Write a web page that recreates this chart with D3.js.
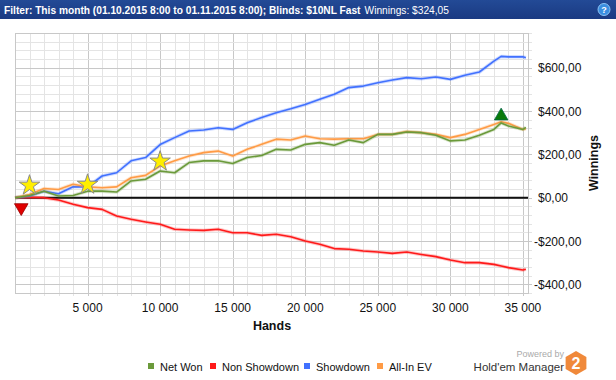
<!DOCTYPE html>
<html><head><meta charset="utf-8">
<script src="https://cdn.jsdelivr.net/npm/d3@7"></script>
<style>
html,body{margin:0;padding:0;background:#fff;}
svg{display:block;font-family:"Liberation Sans",Arial,sans-serif;}
</style></head>
<body>
<svg id="c" width="616" height="380"></svg>
<script>
const hands = [0,1000,2000,3000,4000,5000,6000,7000,8000,9000,10000,11000,12000,13000,14000,15000,16000,17000,18000,19000,20000,21000,22000,23000,24000,25000,26000,27000,28000,29000,30000,31000,32000,33000,33500,34000,35000,35200];
const netWon      = [0,10,30,8,10,30,30,26,77,85,123,115,162,170,170,158,185,195,223,220,246,254,242,266,254,292,292,303,300,288,262,266,288,315,345,331,315,324.05];
const nonShowdown = [0,2,0,-11,-30,-46,-54,-85,-100,-112,-123,-146,-149,-151,-146,-162,-162,-174,-169,-180,-200,-215,-235,-238,-246,-251,-257,-251,-262,-272,-288,-300,-300,-308,-315,-323,-334,-330];
const showdown    = [0,8,30,18,50,50,100,115,170,185,245,277,308,312,323,315,346,370,392,410,430,454,477,508,515,530,543,554,549,557,546,565,580,630,652,650,650,646];
const allInEV     = [0,15,42,38,62,50,46,50,92,103,146,170,192,208,215,192,223,246,270,266,285,272,270,272,272,292,292,305,300,292,277,292,315,338,350,343,315,318];
const seriesNames = ["Net Won","Non Showdown","Showdown","All-In EV"];
const seriesColors = ["#6b9a3b","#ff1a1a","#4171ff","#ff9b45"];
const xTicks = [5000,10000,15000,20000,25000,30000,35000];
const yTicks = [-400,-200,0,200,400,600];
const stars = [{h:1000,v:61},{h:5000,v:65},{h:10000,v:172}];
const minMark = {h:430,v:-46};
const maxMark = {h:33500,v:377};
const title = "Filter: This month (01.10.2015 8:00 to 01.11.2015 8:00); Blinds: $10NL Fast";
const titleExtra = "Winnings: $324,05";

const svg = d3.select("#c");
const L=15,R=528,T=33,B=293;
const x = d3.scaleLinear().domain([0,35350]).range([L,R]);
const y = d3.scaleLinear().domain([-440,760]).range([B,T]);

// title bar
const grad = svg.append("defs").append("linearGradient").attr("id","tb").attr("x1",0).attr("y1",0).attr("x2",0).attr("y2",1);
grad.append("stop").attr("offset","0").attr("stop-color","#234a96");
grad.append("stop").attr("offset","1").attr("stop-color","#1a3a82");
svg.append("rect").attr("x",0).attr("y",0).attr("width",616).attr("height",19).attr("fill","url(#tb)");
const tt = svg.append("text").attr("x",4).attr("y",13.5).attr("fill","#fff").attr("font-size",10.2);
tt.append("tspan").attr("font-weight","bold").text(title);
tt.append("tspan").attr("dx",4).text(titleExtra);
svg.append("circle").attr("cx",604).attr("cy",9.5).attr("r",6).attr("fill","#3a8ee0").attr("stroke","#8cc4f5").attr("stroke-width",1);
svg.append("text").attr("x",604).attr("y",13).attr("text-anchor","middle").attr("fill","#fff").attr("font-size",9).attr("font-weight","bold").text("?");

// grid
const g = svg.append("g");
const minorX = d3.range(1000,35001,1000);
const minorY = d3.range(-440,761,40);
g.selectAll("line.mx").data(minorX).enter().append("line")
  .attr("x1",d=>Math.round(x(d))+0.5).attr("x2",d=>Math.round(x(d))+0.5).attr("y1",T).attr("y2",B+3)
  .attr("stroke",d=>d%5000===0?"#c8c8c8":"#e4e4e4").attr("stroke-width",1);
g.selectAll("line.my").data(minorY).enter().append("line")
  .attr("y1",d=>Math.round(y(d))+0.5).attr("y2",d=>Math.round(y(d))+0.5).attr("x1",L).attr("x2",R+4)
  .attr("stroke",d=>d%200===0?"#c8c8c8":"#e4e4e4").attr("stroke-width",1);
g.append("rect").attr("x",L+0.5).attr("y",T+0.5).attr("width",R-L).attr("height",B-T)
  .attr("fill","none").attr("stroke","#c8c8c8");

// axes labels
svg.append("g").selectAll("text").data(xTicks).enter().append("text")
  .attr("x",d=>x(d)).attr("y",312).attr("text-anchor","middle").attr("font-size",12).attr("fill","#111")
  .text(d=>d3.format(",")(d).replace(/,/g," "));
svg.append("text").attr("x",272).attr("y",330).attr("text-anchor","middle").attr("font-size",12.5).attr("font-weight","bold").attr("fill","#111").text("Hands");
svg.append("g").selectAll("text").data(yTicks).enter().append("text")
  .attr("x",d=>d<0?534:538).attr("y",d=>y(d)+4.5).attr("font-size",12).attr("fill","#111")
  .text(d=>(d<0?"-":"")+"$"+Math.abs(d)+",00");
svg.append("text").attr("transform","translate(598,163) rotate(-90)").attr("text-anchor","middle")
  .attr("font-size",12.5).attr("font-weight","bold").attr("fill","#111").text("Winnings");

// zero line
svg.append("line").attr("x1",L).attr("x2",R).attr("y1",y(0)).attr("y2",y(0)).attr("stroke","#111").attr("stroke-width",2);

// series
const allSeries = [netWon,nonShowdown,showdown,allInEV];
const line = d3.line().x((d,i)=>x(hands[i])).y(d=>y(d));
const drawOrder = [1,2,3,0];
drawOrder.forEach(k=>{
  svg.append("path").attr("d",line(allSeries[k])).attr("fill","none").attr("stroke",seriesColors[k])
    .attr("stroke-width",3.5).attr("stroke-opacity",0.25).attr("stroke-linejoin","round");
  svg.append("path").attr("d",line(allSeries[k])).attr("fill","none").attr("stroke",seriesColors[k])
    .attr("stroke-width",1.6).attr("stroke-linejoin","round");
});

// markers
const star = d3.symbol().type(d3.symbolStar).size(130);
svg.selectAll("path.star").data(stars).enter().append("path")
  .attr("transform",d=>`translate(${x(d.h)},${y(d.v)+1})`).attr("d",star())
  .attr("fill","#ffee00").attr("stroke","#8a8a8a").attr("stroke-width",1);
const tri = d3.symbol().type(d3.symbolTriangle).size(80);
svg.append("path").attr("transform",`translate(${x(minMark.h)},${y(minMark.v)}) rotate(180)`).attr("d",tri())
  .attr("fill","#e00000").attr("stroke","#900").attr("stroke-width",0.8);
svg.append("path").attr("transform",`translate(${x(maxMark.h)},${y(maxMark.v)})`).attr("d",tri())
  .attr("fill","#0a7a0a").attr("stroke","#064").attr("stroke-width",0.8);

// legend
const legX = [148,210,304,377];
const lg = svg.append("g");
seriesNames.forEach((n,i)=>{
  lg.append("rect").attr("x",legX[i]).attr("y",363).attr("width",6).attr("height",6).attr("fill",seriesColors[i]);
  lg.append("text").attr("x",legX[i]+12).attr("y",371).attr("font-size",11).attr("fill","#111").text(n);
});

// branding
svg.append("text").attr("x",564).attr("y",357).attr("text-anchor","end").attr("font-size",9).attr("fill","#aaa").text("Powered by");
svg.append("text").attr("x",564).attr("y",371).attr("text-anchor","end").attr("font-size",11.5).attr("fill","#333").text("Hold'em Manager");
const hex = d3.range(6).map(i=>{const a=Math.PI/3*i+Math.PI/6;return [576+12*Math.cos(a),363+12*Math.sin(a)];});
svg.append("path").attr("d","M"+hex.join("L")+"Z").attr("fill","#f0893a");
svg.append("text").attr("x",576).attr("y",369).attr("text-anchor","middle").attr("font-size",16).attr("font-weight","bold").attr("fill","#fff").text("2");
</script>
</body></html>
